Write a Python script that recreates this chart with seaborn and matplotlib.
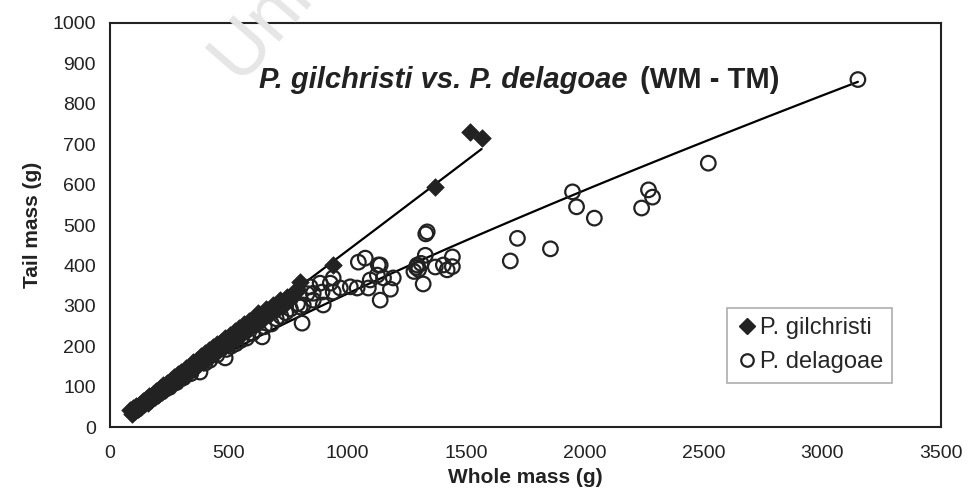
import numpy as np
import pandas as pd
import matplotlib
matplotlib.use("Agg")
import matplotlib.pyplot as plt
import seaborn as sns
from matplotlib.lines import Line2D

sns.set_theme(style="white")
plt.rcParams["font.family"] = ["Liberation Sans", "DejaVu Sans"]

# Whole mass (g) and tail mass (g), P. gilchristi
gil_wm = [85, 92, 98, 105, 110, 118, 125, 130, 138, 145, 150, 158, 165, 172, 180,
          188, 195, 202, 210, 218, 225, 232, 240, 248, 255, 262, 270, 278, 285, 292,
          300, 310, 318, 325, 335, 342, 350, 360, 368, 375, 385, 392, 400, 410, 418,
          425, 435, 442, 450, 460, 468, 475, 485, 495, 505, 515, 525, 535, 545, 555,
          565, 575, 585, 595, 605, 615, 625, 640, 655, 670, 685, 700, 715, 730, 745,
          760, 775, 790, 800, 940, 1370, 1515, 1565]
gil_tm = [42, 33, 46, 40, 52, 44, 58, 49, 64, 56, 70, 60, 76, 67, 82,
          74, 90, 80, 96, 86, 103, 92, 110, 100, 116, 105, 124, 112, 130, 118,
          137, 125, 145, 132, 152, 139, 160, 147, 167, 155, 175, 161, 183, 168, 190,
          175, 197, 182, 205, 190, 211, 196, 220, 203, 228, 212, 237, 221, 246, 229,
          254, 238, 262, 247, 270, 255, 281, 266, 292, 278, 303, 290, 314, 300, 322,
          318, 335, 340, 358, 402, 594, 730, 716]

# Whole mass (g) and tail mass (g), P. delagoae
del_wm = [105, 130, 160, 190, 220, 250, 280, 310, 340, 379, 400, 420, 450, 485,
          490, 510, 530, 550, 575, 600, 641, 650, 680, 700, 720, 740, 760, 790,
          801, 809, 814, 830, 843, 856, 856, 885, 893, 898, 928, 940, 940, 970,
          1012, 1041, 1046, 1075, 1088, 1096, 1126, 1130, 1138, 1138, 1152, 1181,
          1193, 1280, 1290, 1294, 1300, 1310, 1319, 1328, 1330, 1336, 1370, 1404,
          1420, 1442, 1442, 1686, 1716, 1855, 1948, 1965, 2040, 2239, 2268, 2285,
          2520, 3150]
del_tm = [40, 52, 64, 76, 88, 98, 110, 122, 132, 136, 158, 165, 178, 171,
          192, 200, 206, 214, 220, 232, 223, 248, 255, 268, 274, 283, 292, 305,
          297, 257, 302, 330, 347, 314, 331, 356, 334, 302, 356, 334, 369, 344,
          347, 344, 408, 418, 344, 364, 376, 401, 314, 401, 369, 341,
          369, 385, 395, 401, 390, 405, 354, 425, 478, 483, 396, 401,
          389, 397, 421, 411, 467, 441, 582, 545, 517, 542, 587, 569,
          653, 860]

species = ["P. gilchristi", "P. delagoae"]

df = pd.DataFrame({
    "wm": gil_wm + del_wm,
    "tm": gil_tm + del_tm,
    "sp": [species[0]] * len(gil_wm) + [species[1]] * len(del_wm),
})


def power_trend(x, y, n=200):
    # least squares in log-log space: tm = a * wm ** b
    x = np.asarray(x, float)
    y = np.asarray(y, float)
    b, lna = np.polyfit(np.log(x), np.log(y), 1)
    xs = np.linspace(x.min(), x.max(), n)
    return pd.DataFrame({"wm": xs, "tm": np.exp(lna) * xs ** b})


fig = plt.figure(figsize=(9.68, 4.93), dpi=100)
ax = fig.add_axes([110 / 968, 66 / 493, 831 / 968, 404 / 493])
ax.patch.set_alpha(0)

# faint diagonal watermark
fig.text(238 / 968, 1 - 82 / 493, "Uni", rotation=49, fontsize=55,
         color="#e6e6e6", ha="left", va="baseline", zorder=0,
         rotation_mode="anchor")

for sp, wm, tm in [(species[0], gil_wm, gil_tm), (species[1], del_wm, del_tm)]:
    sns.lineplot(data=power_trend(wm, tm), x="wm", y="tm", color="black",
                 linewidth=1.6, ax=ax, zorder=2)

sns.scatterplot(data=df[df.sp == species[1]], x="wm", y="tm", marker="o", s=110,
                facecolor="none", edgecolor="#222222", linewidth=1.6, ax=ax,
                zorder=3)
sns.scatterplot(data=df[df.sp == species[0]], x="wm", y="tm", marker="D", s=80,
                color="#222222", edgecolor="#222222", linewidth=0.5, ax=ax,
                zorder=4)

ax.set_xlim(0, 3500)
ax.set_ylim(0, 1000)
ax.set_xticks(np.arange(0, 3501, 500))
ax.set_yticks(np.arange(0, 1001, 100))
ax.tick_params(axis="both", which="major", labelsize=14, colors="#222222",
               length=4, width=1, direction="out")
ax.tick_params(axis="x", pad=13, length=0)
ax.tick_params(axis="y", pad=6)
for s in ax.spines.values():
    s.set_visible(True)
    s.set_color("#222222")
    s.set_linewidth(1.5)

ax.set_xlabel("Whole mass (g)", fontsize=15, fontweight="bold", labelpad=4,
              color="#222222")
ax.set_ylabel("Tail mass (g)", fontsize=15, fontweight="bold", labelpad=8,
              color="#222222")

ax.text(0.623, 0.859, "P. gilchristi vs. P. delagoae", transform=ax.transAxes,
        fontsize=21, fontweight="bold", fontstyle="italic", ha="right",
        va="center", color="#222222")
ax.text(0.638, 0.859, "(WM - TM)", transform=ax.transAxes, fontsize=21,
        fontweight="bold", ha="left", va="center", color="#222222")

handles = [
    Line2D([], [], marker="D", color="#222222", linestyle="none", markersize=8),
    Line2D([], [], marker="o", markerfacecolor="none", markeredgecolor="#222222",
           markeredgewidth=1.6, linestyle="none", markersize=9),
]
leg = ax.legend(handles, species, loc="upper left",
                bbox_to_anchor=(0.742, 0.295), fontsize=17, frameon=True,
                fancybox=False, edgecolor="#999999", handletextpad=0.1,
                handlelength=0.9, borderpad=0.4, labelspacing=0.5,
                borderaxespad=0)
leg.get_frame().set_linewidth(1.2)

fig.savefig("out.png", dpi=100)
